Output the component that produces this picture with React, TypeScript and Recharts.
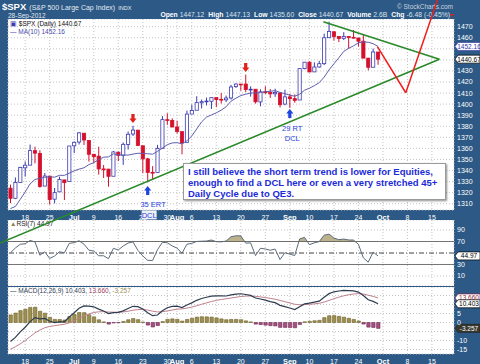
import { ComposedChart, Bar, Line, Area, XAxis, YAxis, CartesianGrid, ReferenceLine, ReferenceDot, Cell } from 'recharts';

const FONT = '"Liberation Sans", Arial, sans-serif';
const FRAME = '#2c5985';
const GRID = '#c4c4c4';
const UP = '#3a3ab2';
const DOWN = '#d4102c';

// trading days (the last 15 are empty slots to the right)
const dates = [
  '06-13', '06-14', '06-15', '06-18', '06-19', '06-20', '06-21', '06-22', '06-25', '06-26', '06-27', '06-28', '06-29',
  '07-02', '07-03', '07-05', '07-06', '07-09', '07-10', '07-11', '07-12', '07-13', '07-16', '07-17', '07-18', '07-19', '07-20', '07-23', '07-24', '07-25', '07-26', '07-27', '07-30', '07-31',
  '08-01', '08-02', '08-03', '08-06', '08-07', '08-08', '08-09', '08-10', '08-13', '08-14', '08-15', '08-16', '08-17', '08-20', '08-21', '08-22', '08-23', '08-24', '08-27', '08-28', '08-29', '08-30', '08-31',
  '09-04', '09-05', '09-06', '09-07', '09-10', '09-11', '09-12', '09-13', '09-14', '09-17', '09-18', '09-19', '09-20', '09-21', '09-24', '09-25', '09-26', '09-27', '09-28',
  '10-01', '10-02', '10-03', '10-04', '10-05', '10-08', '10-09', '10-10', '10-11', '10-12', '10-15', '10-16', '10-17', '10-18', '10-19',
];

const opens = [
  1324.02, 1314.88, 1329.19, 1342.42, 1344.83, 1357.98, 1355.43, 1325.92, 1334.90, 1314.09, 1320.71, 1331.52, 1330.12,
  1362.33, 1365.75, 1373.72, 1367.09, 1354.66, 1352.96, 1341.40, 1341.29, 1334.81, 1356.50, 1353.68, 1363.58, 1373.01, 1376.51, 1362.34, 1350.52, 1338.35, 1338.17, 1360.05, 1385.94, 1385.27,
  1379.32, 1375.13, 1365.45, 1391.04, 1394.46, 1401.23, 1402.26, 1402.58, 1405.87, 1404.36, 1403.89, 1405.57, 1415.84, 1417.85, 1418.13, 1413.09, 1413.49, 1401.99, 1411.13, 1410.44, 1409.32, 1410.08, 1400.07,
  1406.54, 1404.94, 1403.74, 1432.12, 1437.92, 1429.13, 1433.56, 1436.56, 1460.07, 1465.42, 1461.19, 1459.50, 1461.05, 1460.34, 1459.76, 1456.94, 1441.60, 1433.36, 1447.12,
];
const highs = [
  1327.28, 1333.68, 1343.32, 1348.22, 1363.46, 1361.57, 1358.27, 1337.82, 1334.90, 1324.24, 1334.40, 1331.52, 1362.17,
  1366.35, 1374.81, 1373.85, 1367.09, 1354.87, 1361.54, 1345.00, 1341.29, 1357.70, 1357.26, 1365.36, 1375.26, 1380.39, 1376.51, 1362.34, 1351.53, 1343.98, 1363.13, 1389.19, 1391.74, 1387.16,
  1385.03, 1375.13, 1394.16, 1399.63, 1407.14, 1404.14, 1405.95, 1405.98, 1405.87, 1410.03, 1407.73, 1417.44, 1418.71, 1418.13, 1426.68, 1416.12, 1413.49, 1413.46, 1416.17, 1413.63, 1413.95, 1410.08, 1413.09,
  1409.31, 1408.81, 1432.12, 1437.92, 1438.74, 1437.76, 1439.15, 1463.76, 1474.51, 1465.63, 1461.47, 1465.05, 1461.23, 1467.07, 1459.76, 1463.24, 1441.60, 1450.20, 1447.13,
];
const lows = [
  1310.51, 1314.14, 1329.19, 1334.46, 1344.83, 1346.45, 1324.41, 1325.92, 1309.27, 1310.30, 1320.71, 1313.29, 1330.12,
  1355.70, 1363.53, 1363.02, 1348.03, 1346.65, 1336.27, 1333.25, 1325.41, 1334.81, 1348.51, 1345.07, 1358.96, 1371.21, 1362.19, 1337.56, 1329.24, 1331.50, 1338.17, 1360.05, 1381.37, 1379.17,
  1373.35, 1354.65, 1365.45, 1391.04, 1394.46, 1396.13, 1398.80, 1395.62, 1397.32, 1400.60, 1401.83, 1404.15, 1414.67, 1412.12, 1410.86, 1406.78, 1400.50, 1398.04, 1409.11, 1405.59, 1406.57, 1397.01, 1398.96,
  1396.56, 1401.25, 1403.74, 1431.45, 1428.98, 1429.13, 1432.99, 1435.34, 1460.07, 1457.55, 1456.13, 1457.88, 1449.98, 1459.51, 1452.06, 1441.59, 1430.53, 1433.36, 1435.60,
];
const closes = [
  1314.88, 1329.10, 1342.84, 1344.78, 1357.98, 1355.69, 1325.51, 1335.02, 1313.72, 1319.99, 1331.85, 1329.04, 1362.16,
  1365.51, 1374.02, 1367.58, 1354.68, 1352.46, 1341.47, 1341.45, 1334.76, 1356.78, 1353.64, 1363.67, 1372.78, 1376.51, 1362.66, 1350.52, 1338.31, 1337.89, 1360.02, 1385.97, 1385.30, 1379.32,
  1375.32, 1365.00, 1390.99, 1394.23, 1401.35, 1402.22, 1402.80, 1405.87, 1404.11, 1403.93, 1405.53, 1415.51, 1418.16, 1418.13, 1413.17, 1413.49, 1402.08, 1411.13, 1410.44, 1409.30, 1410.49, 1399.48, 1406.58,
  1404.94, 1403.44, 1432.12, 1437.92, 1429.08, 1433.56, 1436.56, 1459.99, 1465.77, 1461.19, 1459.32, 1461.05, 1460.26, 1460.15, 1456.89, 1441.59, 1433.32, 1447.15, 1440.67,
];
const ma10 = [
  1305.58, 1307.46, 1313.94, 1320.60, 1327.85, 1331.90, 1332.96, 1333.89, 1334.37, 1333.95, 1335.65, 1335.64, 1337.57,
  1339.65, 1341.25, 1342.44, 1345.36, 1347.10, 1349.88, 1352.02, 1352.31, 1355.09, 1354.24, 1354.05, 1353.93, 1354.82, 1355.62, 1355.42, 1355.11, 1354.75, 1357.28, 1360.20, 1363.36, 1364.93,
  1365.18, 1364.03, 1366.86, 1371.24, 1377.54, 1383.97, 1388.25, 1390.24, 1392.12, 1394.58, 1397.60, 1402.65, 1405.37, 1407.76, 1408.94, 1410.07, 1410.00, 1410.52, 1411.16, 1411.69, 1412.19, 1410.59, 1409.43,
  1408.11, 1407.14, 1409.00, 1412.58, 1414.38, 1416.69, 1419.42, 1424.37, 1431.00, 1436.46, 1441.90, 1447.66, 1450.47, 1452.69, 1455.47, 1456.28, 1455.95, 1454.67, 1452.16,
];
const rsi7 = [
  50.5, 58.7, 65.2, 66.1, 71.7, 69.4, 46.2, 52.1, 40.5, 44.7, 52.2, 50.3, 66.8,
  68.0, 71.3, 65.4, 55.0, 53.3, 45.2, 45.2, 40.1, 58.1, 55.3, 62.1, 67.3, 69.3, 54.7, 45.0, 37.2, 37.0, 55.7, 68.5, 67.9, 62.3,
  58.5, 49.5, 65.2, 66.8, 70.1, 70.5, 70.8, 72.6, 69.7, 69.4, 70.8, 78.3, 79.9, 79.8, 67.2, 67.6, 45.5, 58.2, 57.0, 54.8, 56.8, 38.6, 50.5,
  48.0, 45.6, 74.4, 77.2, 64.5, 67.7, 69.8, 81.0, 82.8, 76.0, 73.2, 74.2, 72.7, 72.5, 65.1, 41.7, 34.0, 51.5, 44.97,
];
const macdLine = [
  -10.60, -8.25, -5.22, -2.63, 0.48, 2.73, 2.05, 2.26, 0.70, -0.04, 0.33, 0.39, 3.08,
  5.42, 7.87, 9.18, 9.07, 8.71, 7.45, 6.38, 4.93, 5.50, 5.63, 6.47, 7.78, 9.01, 8.78, 7.52, 5.47, 3.78, 4.17, 6.50, 8.19, 8.95,
  9.13, 8.34, 9.70, 10.91, 12.31, 13.33, 14.02, 14.65, 14.84, 14.80, 14.73, 15.30, 15.78, 15.98, 15.56, 15.08, 13.62, 13.04, 12.39, 11.64, 11.02, 9.53, 8.82,
  8.03, 7.20, 8.76, 10.34, 10.76, 11.32, 11.87, 14.03, 16.03, 17.05, 17.50, 17.79, 17.76, 17.52, 16.87, 14.95, 12.61, 11.75, 10.403,
];
const macdSignal = [
  -14.80, -13.49, -11.84, -10.00, -7.90, -5.77, -4.21, -2.92, -2.20, -1.77, -1.35, -1.00, -0.18,
  0.94, 2.33, 3.70, 4.77, 5.56, 5.94, 6.03, 5.81, 5.75, 5.73, 5.88, 6.26, 6.81, 7.20, 7.26, 6.90, 6.28, 5.86, 5.99, 6.43, 6.93,
  7.37, 7.56, 7.99, 8.57, 9.32, 10.12, 10.90, 11.65, 12.29, 12.79, 13.18, 13.60, 14.04, 14.43, 14.66, 14.74, 14.52, 14.22, 13.85, 13.41, 12.93, 12.25, 11.56,
  10.85, 10.12, 9.85, 9.95, 10.11, 10.35, 10.65, 11.33, 12.27, 13.23, 14.08, 14.82, 15.41, 15.83, 16.04, 15.82, 15.18, 14.49, 13.660,
];
const macdHist = [
  4.20, 5.24, 6.62, 7.37, 8.38, 8.50, 6.26, 5.18, 2.90, 1.73, 1.68, 1.39, 3.26,
  4.48, 5.54, 5.48, 4.30, 3.15, 1.51, 0.35, -0.88, -0.25, -0.10, 0.59, 1.52, 2.20, 1.58, 0.26, -1.43, -2.50, -1.69, 0.51, 1.76, 2.02,
  1.76, 0.78, 1.71, 2.34, 2.99, 3.21, 3.12, 3.00, 2.55, 2.01, 1.55, 1.70, 1.74, 1.55, 0.90, 0.34, -0.90, -1.18, -1.46, -1.77, -1.91, -2.72, -2.74,
  -2.82, -2.92, -1.09, 0.39, 0.65, 0.97, 1.22, 2.70, 3.76, 3.82, 3.42, 2.97, 2.35, 1.69, 0.83, -0.87, -2.57, -2.74, -3.257,
];

const tickDates = ['06-18', '06-25', '07-02', '07-09', '07-16', '07-23', '07-30', '08-01', '08-06', '08-13', '08-20', '08-27', '09-04', '09-10', '09-17', '09-24', '10-01', '10-08', '10-15'];
const tickLabels = ['18', '25', 'Jul', '9', '16', '23', '30', 'Aug', '6', '13', '20', '27', 'Sep', '10', '17', '24', 'Oct', '8', '15'];
const priceTicks = [1310, 1320, 1330, 1340, 1350, 1360, 1370, 1380, 1390, 1400, 1410, 1420, 1430, 1440, 1450, 1460, 1470];
const rsiTicks = [10, 30, 70, 90];
const macdTicks = [-15, -10, -5, 0, 5, 10, 15];

// hand-drawn annotations, in (trading day index, price)
const lowerTrend = [{ x: -2.13, y: 1274.4 }, { x: 87.52, y: 1440.5 }];
const upperTrend = [{ x: 63.85, y: 1474.5 }, { x: 87.52, y: 1440.5 }];
const projection = [{ x: 74.87, y: 1451.9 }, { x: 80.66, y: 1410.3 }, { x: 87.11, y: 1494.1 }];
const arrowDays = [25, 28, 48, 57];
const arrowPrices = [1383, 1326, 1429, 1395.5];
const arrowKinds = ['top', 'low', 'top', 'low'];
const noteTexts = ['35 ERT', 'DCL', '29 RT', 'DCL'];
const noteDays = [29.1, 28.3, 57.5, 57.5];
const notePrices = [1309.7, 1299.9, 1378.4, 1369.4];

const PRICE_DOMAIN = [1304.3, 1476.96];
const RSI_DOMAIN = [-7.4, 107.4];
const MACD_DOMAIN = [-17.5, 19.72];
const RSI_H = 66;

const L = closes.length - 1;

const rows = dates.map((d, i) => ({
  d,
  i,
  o: opens[i],
  h: highs[i],
  l: lows[i],
  c: closes[i],
  pc: i > 0 ? closes[i - 1] : opens[i],
  ma: ma10[i],
  rsi: rsi7[i],
  macd: macdLine[i],
  sig: macdSignal[i],
  hist: macdHist[i],
}));

const candleRange = (r: any) => (r.o === undefined ? undefined : [r.l, r.h]);

const Candle = (props: any) => {
  const { x, y, width, height, payload } = props;
  if (!payload || payload.o === undefined || !isFinite(y)) return null;
  const { o, h, l, c, pc } = payload;
  const span = h - l || 1;
  const py = (v: number) => y + ((h - v) / span) * height;
  const cx = x + width / 2;
  const color = c < pc ? DOWN : UP;
  const top = py(Math.max(o, c));
  const bot = py(Math.min(o, c));
  return (
    <g>
      <line x1={cx} x2={cx} y1={y} y2={y + height} stroke={color} strokeWidth={1} />
      <rect x={cx - 1.6} y={top} width={3.2} height={Math.max(bot - top, 0.8)} fill={c < o ? color : '#fff'} stroke={color} strokeWidth={0.8} />
    </g>
  );
};

const DateTick = (props: any) => {
  const { x, y, payload } = props;
  const label = tickLabels[tickDates.indexOf(payload.value)];
  const bold = isNaN(Number(label));
  return (
    <text x={x} y={y + 7.5} textAnchor="middle" fill="#fff" fontSize={bold ? 7.5 : 7} fontWeight={bold ? 700 : 400} fontFamily={FONT}>
      {label}
    </text>
  );
};

// right-hand value labels; the ones sitting under a value tag are left out, as in the original
const makeValueTick = (tags: number[], gap: number) => (props: any) => {
  const { x, y, payload } = props;
  if (tags.some((t) => Math.abs(t - payload.value) < gap)) return null;
  return (
    <text x={x} y={y} dy="0.355em" textAnchor="start" fill="#fff" fontSize={7} fontFamily={FONT}>
      {payload.value}
    </text>
  );
};
const PriceTick = makeValueTick([ma10[L], closes[L]], 5);
const RsiTick = makeValueTick([rsi7[L]], 8);
const MacdTick = makeValueTick([macdLine[L], macdSignal[L], macdHist[L]], 2.5);

const Tag = (props: any) => {
  const { viewBox, text, color, bg = '#fff', border = '#333' } = props;
  if (!viewBox) return null;
  const x = viewBox.x + viewBox.width + 1;
  const y = viewBox.y;
  return (
    <g>
      <path d={`M${x} ${y} L${x + 3} ${y - 4} H${x + 25} V${y + 4} H${x + 3} Z`} fill={bg} stroke={border} strokeWidth={0.7} />
      <text x={x + 14} y={y + 2.4} textAnchor="middle" fontSize={6.5} fill={color} fontFamily={FONT}>
        {text}
      </text>
    </g>
  );
};

const Arrow = ({ cx, cy, kind }: any) => {
  const s = kind === 'top' ? -1 : 1;
  const color = kind === 'top' ? '#e3201c' : '#1f45e0';
  const pts = [
    [cx, cy], [cx - 3.6, cy + s * 4.5], [cx - 1.6, cy + s * 4.5], [cx - 1.6, cy + s * 9],
    [cx + 1.6, cy + s * 9], [cx + 1.6, cy + s * 4.5], [cx + 3.6, cy + s * 4.5],
  ].map((p) => p.join(',')).join(' ');
  return <polygon points={pts} fill={color} />;
};

const Note = ({ cx, cy, text, boxed }: any) => (
  <g>
    {boxed && <rect x={cx - 7.5} y={cy - 4.5} width={15} height={9} fill="#eef0f6" />}
    <text x={cx} y={cy + 2.7} textAnchor="middle" fontSize={7.5} fill="#1f3fe0" fontFamily={FONT}>
      {text}
    </text>
  </g>
);

const rsiStop = (RSI_DOMAIN[1] - 70) / (RSI_DOMAIN[1] - RSI_DOMAIN[0]);

export default function App() {
  const chg = closes[L] - closes[L - 1];
  const lab = { fontWeight: 700, color: '#fff', marginLeft: 4 };
  const val = { color: '#dbe3ee', marginLeft: 2 };
  return (
    <div style={{ position: 'absolute', left: 0, top: 0, width: 480, height: 364, background: FRAME, overflow: 'hidden', fontFamily: FONT }}>
      {/* header */}
      <div style={{ position: 'absolute', left: 2, top: 0, color: '#fff', whiteSpace: 'nowrap', lineHeight: '10px' }}>
        <span style={{ fontSize: 9.5, fontWeight: 700 }}>$SPX</span>
        <span style={{ fontSize: 7, marginLeft: 3, color: '#e4eaf2' }}>(S&amp;P 500 Large Cap Index)</span>
        <span style={{ fontSize: 5.5, marginLeft: 3, color: '#e4eaf2' }}>INDX</span>
      </div>
      <div style={{ position: 'absolute', left: 8, top: 12, fontSize: 6.5, lineHeight: '7px', color: '#e4eaf2', whiteSpace: 'nowrap' }}>28-Sep-2012</div>
      <div style={{ position: 'absolute', right: 27, top: 3, fontSize: 6.5, lineHeight: '8px', color: '#c9d3df', whiteSpace: 'nowrap' }}>© StockCharts.com</div>
      <div style={{ position: 'absolute', right: 30, top: 11, fontSize: 6.8, lineHeight: '8px', whiteSpace: 'nowrap' }}>
        <span style={lab}>Open</span><span style={val}>{opens[L].toFixed(2)}</span>
        <span style={lab}>High</span><span style={val}>{highs[L].toFixed(2)}</span>
        <span style={lab}>Low</span><span style={val}>{lows[L].toFixed(2)}</span>
        <span style={lab}>Close</span><span style={val}>{closes[L].toFixed(2)}</span>
        <span style={lab}>Volume</span><span style={val}>2.6B</span>
        <span style={lab}>Chg</span><span style={val}>{chg.toFixed(2)} ({((chg / closes[L - 1]) * 100).toFixed(2)}%)</span>
      </div>
      <div style={{ position: 'absolute', left: 450, top: 14, width: 0, height: 0, borderLeft: '2.5px solid transparent', borderRight: '2.5px solid transparent', borderTop: '3px solid #e02020' }} />

      {/* price panel */}
      <div style={{ position: 'absolute', left: 0, top: 19 }}>
        <ComposedChart width={480} height={201} data={rows} margin={{ top: 0, right: 0, bottom: 0, left: 8 }}>
          <CartesianGrid fill="#fff" stroke={GRID} strokeDasharray="1 2" />
          <XAxis dataKey="d" scale="band" ticks={tickDates} interval={0} tick={<DateTick />} tickLine={false} axisLine={false} tickSize={0} height={10} />
          <YAxis orientation="right" width={26} domain={PRICE_DOMAIN} allowDataOverflow ticks={priceTicks} interval={0} tick={PriceTick} tickLine={false} axisLine={false} tickSize={0} tickMargin={3} />
          <Line dataKey="ma" stroke="#5e5eae" strokeWidth={1} dot={false} isAnimationActive={false} />
          <Bar dataKey={candleRange} shape={<Candle />} isAnimationActive={false} />
          <ReferenceLine y={ma10[L]} stroke="none" ifOverflow="visible" label={<Tag text={ma10[L].toFixed(2)} color="#3a3aa8" border="#3a3aa8" />} />
          <ReferenceLine y={closes[L]} stroke="none" ifOverflow="visible" label={<Tag text={closes[L].toFixed(2)} color="#000" border="#000" />} />
        </ComposedChart>
      </div>
      <div style={{ position: 'absolute', left: 10, top: 20, fontSize: 6.5, lineHeight: '8px', whiteSpace: 'nowrap', color: '#111' }}>
        <div><span style={{ color: UP }}>▣</span> $SPX (Daily) {closes[L].toFixed(2)}</div>
        <div style={{ color: '#4a4aa8' }}>— MA(10) {ma10[L].toFixed(2)}</div>
      </div>

      {/* RSI panel */}
      <div style={{ position: 'absolute', left: 0, top: 220 }}>
        <ComposedChart width={480} height={RSI_H} data={rows} margin={{ top: 0, right: 0, bottom: 0, left: 8 }}>
          <defs>
            <linearGradient id="rsiHigh" x1="0" y1="0" x2="0" y2={RSI_H} gradientUnits="userSpaceOnUse">
              <stop offset={0} stopColor="#8f8040" />
              <stop offset={rsiStop} stopColor="#8f8040" />
              <stop offset={rsiStop} stopColor="#8f8040" stopOpacity={0} />
              <stop offset={1} stopColor="#8f8040" stopOpacity={0} />
            </linearGradient>
          </defs>
          <CartesianGrid fill="#fff" stroke={GRID} strokeDasharray="1 2" />
          <XAxis dataKey="d" scale="band" ticks={tickDates} interval={0} hide />
          <YAxis orientation="right" width={26} domain={RSI_DOMAIN} allowDataOverflow ticks={rsiTicks} interval={0} tick={RsiTick} tickLine={false} axisLine={false} tickSize={0} tickMargin={3} />
          <Area dataKey="rsi" baseValue={70} stroke="none" fill="url(#rsiHigh)" isAnimationActive={false} />
          <ReferenceLine y={70} stroke="#555" strokeWidth={0.8} />
          <ReferenceLine y={30} stroke="#555" strokeWidth={0.8} />
          <ReferenceLine y={50} stroke="#111" strokeWidth={0.8} strokeDasharray="5 2 1 2" />
          <Line dataKey="rsi" stroke="#5d6b7a" strokeWidth={1} dot={false} isAnimationActive={false} />
          <ReferenceLine y={rsi7[L]} stroke="none" ifOverflow="visible" label={<Tag text={rsi7[L].toFixed(2)} color="#000" border="#000" />} />
        </ComposedChart>
      </div>
      <div style={{ position: 'absolute', left: 10, top: 220, fontSize: 6.5, lineHeight: '8px', whiteSpace: 'nowrap', color: '#222' }}>
        <span style={{ color: '#8f8040' }}>▲</span>RSI(7) {rsi7[L].toFixed(2)}
      </div>

      {/* MACD panel */}
      <div style={{ position: 'absolute', left: 0, top: 287 }}>
        <ComposedChart width={480} height={77} data={rows} margin={{ top: 0, right: 0, bottom: 0, left: 8 }}>
          <CartesianGrid fill="#fff" stroke={GRID} strokeDasharray="1 2" />
          <XAxis dataKey="d" scale="band" ticks={tickDates} interval={0} tick={<DateTick />} tickLine={false} axisLine={false} tickSize={0} height={10} />
          <YAxis orientation="right" width={26} domain={MACD_DOMAIN} allowDataOverflow ticks={macdTicks} interval={0} tick={MacdTick} tickLine={false} axisLine={false} tickSize={0} tickMargin={3} />
          <Bar dataKey="hist" barSize={3.4} isAnimationActive={false}>
            {rows.map((r, i) => (
              <Cell key={i} fill={r.hist >= 0 ? '#9d8f50' : '#a5507f'} stroke={r.hist >= 0 ? '#6e632c' : '#6e2a52'} strokeWidth={0.6} />
            ))}
          </Bar>
          <Line dataKey="sig" stroke="#c0808e" strokeWidth={1} dot={false} isAnimationActive={false} />
          <Line dataKey="macd" stroke="#2f3d50" strokeWidth={1.2} dot={false} isAnimationActive={false} />
          <ReferenceLine y={macdSignal[L]} stroke="none" ifOverflow="visible" label={<Tag text={macdSignal[L].toFixed(3)} color="#8a2a48" border="#8a2a48" />} />
          <ReferenceLine y={macdLine[L]} stroke="none" ifOverflow="visible" label={<Tag text={macdLine[L].toFixed(3)} color="#000" border="#000" />} />
          <ReferenceLine y={macdHist[L]} stroke="none" ifOverflow="visible" label={<Tag text={macdHist[L].toFixed(3)} color="#fff" bg="#3a3a30" border="#222" />} />
        </ComposedChart>
      </div>
      <div style={{ position: 'absolute', left: 10, top: 287, fontSize: 6.5, lineHeight: '8px', whiteSpace: 'nowrap', color: '#2f3d50' }}>
        — MACD(12,26,9) {macdLine[L].toFixed(3)}, <span style={{ color: '#a04060' }}>{macdSignal[L].toFixed(3)}</span>, <span style={{ color: '#9d8f50' }}>{macdHist[L].toFixed(3)}</span>
      </div>

      {/* annotation overlay */}
      <div style={{ position: 'absolute', left: 0, top: 0, pointerEvents: 'none' }}>
        <ComposedChart width={480} height={364} data={rows} margin={{ top: 19, right: 26, bottom: 154, left: 8 }}>
          <XAxis type="number" dataKey="i" domain={[-0.5, 90.5]} allowDataOverflow hide />
          <YAxis type="number" domain={PRICE_DOMAIN} allowDataOverflow hide />
          <ReferenceLine segment={lowerTrend} stroke="#2a8a2a" strokeWidth={1.6} ifOverflow="visible" />
          <ReferenceLine segment={upperTrend} stroke="#2a8a2a" strokeWidth={1.6} ifOverflow="visible" />
          <ReferenceLine segment={[projection[0], projection[1]]} stroke="#f01c1c" strokeWidth={1.5} ifOverflow="visible" />
          <ReferenceLine segment={[projection[1], projection[2]]} stroke="#f01c1c" strokeWidth={1.5} ifOverflow="visible" />
          {arrowDays.map((d, k) => (
            <ReferenceDot key={`a${k}`} x={d} y={arrowPrices[k]} ifOverflow="visible" shape={(p: any) => <Arrow cx={p.cx} cy={p.cy} kind={arrowKinds[k]} />} />
          ))}
          {noteTexts.map((t, k) => (
            <ReferenceDot key={`n${k}`} x={noteDays[k]} y={notePrices[k]} ifOverflow="visible" shape={(p: any) => <Note cx={p.cx} cy={p.cy} text={t} boxed={k === 1} />} />
          ))}
        </ComposedChart>
      </div>

      {/* comment box */}
      <div
        style={{
          position: 'absolute', left: 183, top: 163, width: 263, height: 37, boxSizing: 'border-box',
          background: '#fff', border: '1px solid #9a9a9a', boxShadow: '1px 1px 2px rgba(0,0,0,0.45)',
          color: '#1c2ad8', fontWeight: 700, fontSize: 9.5, lineHeight: '11px', padding: '2px 4px', whiteSpace: 'nowrap',
        }}
      >
        I still believe the short term trend is lower for Equities,
        <br />
        enough to find a DCL here or even a very stretched 45+
        <br />
        Daily Cycle due to QE3.
      </div>
    </div>
  );
}
